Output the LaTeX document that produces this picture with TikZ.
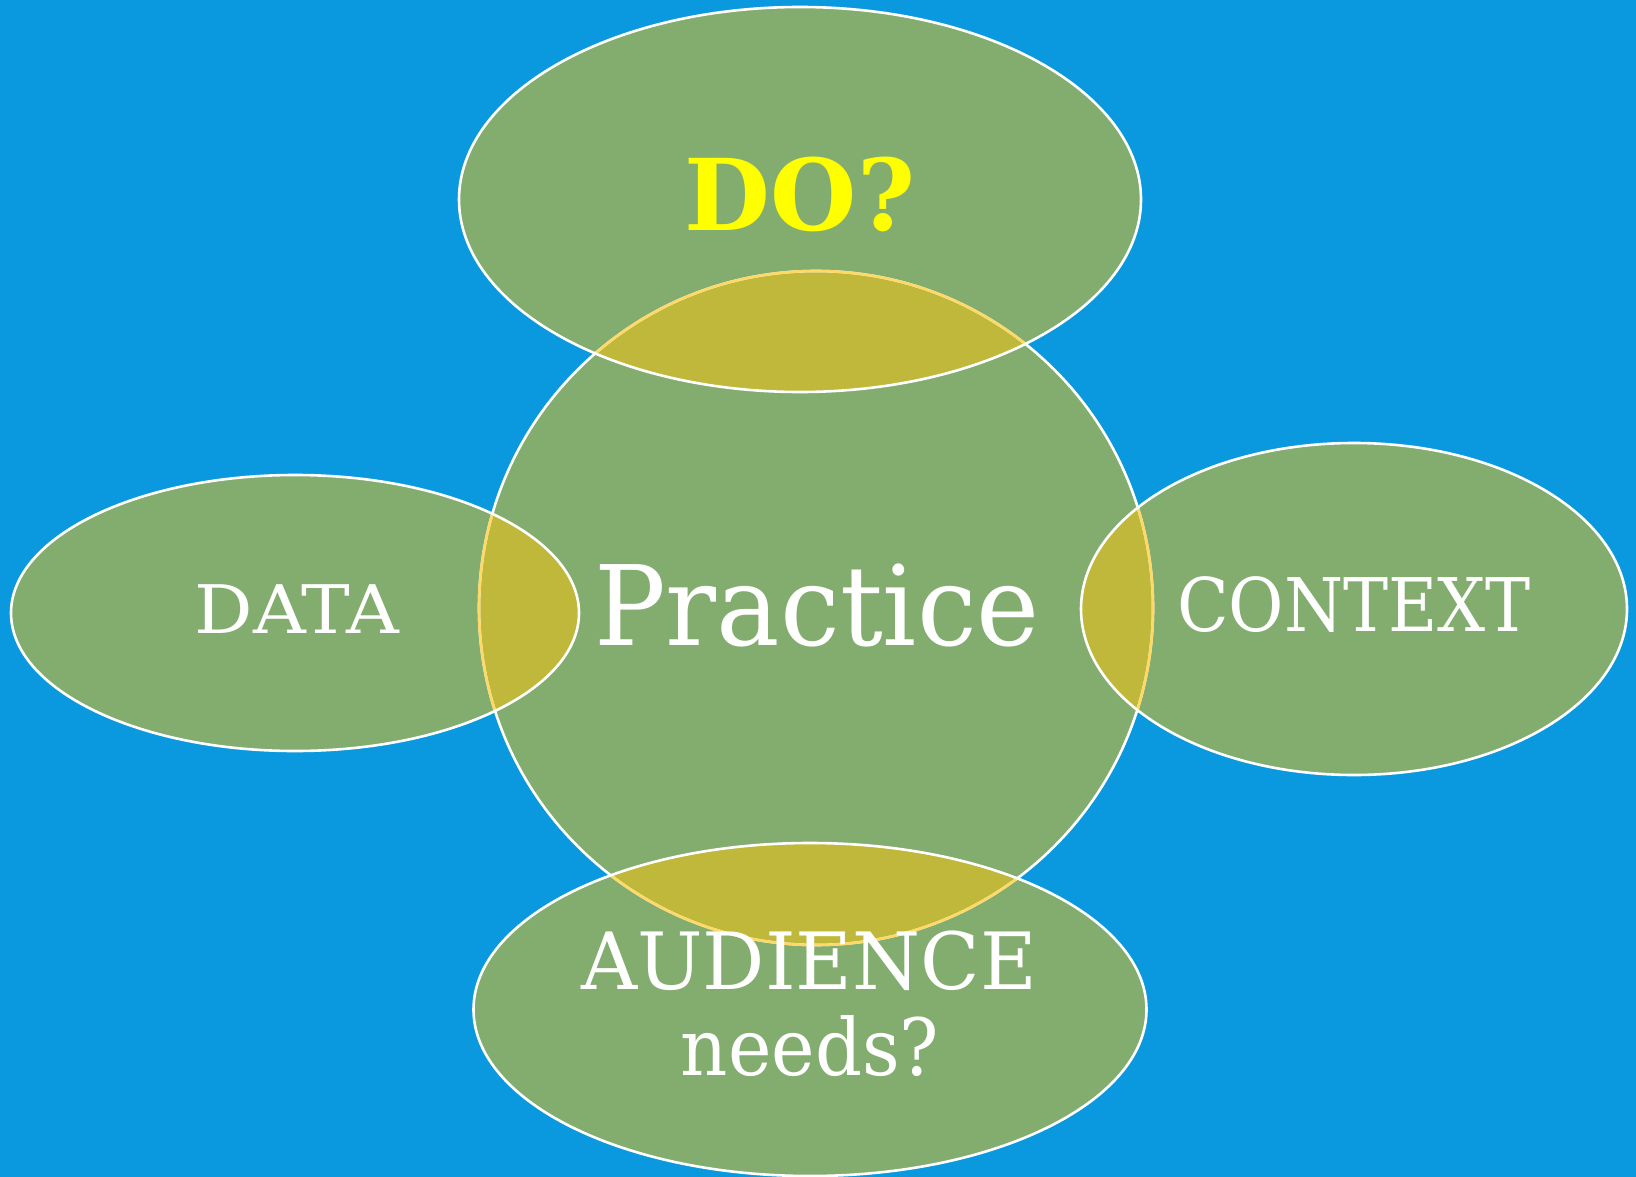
\documentclass[tikz,border=0pt]{standalone}
\usepackage{fontspec}
\setmainfont{DejaVu Serif}
\definecolor{bgblue}{HTML}{0A99DE}
\definecolor{leafgreen}{HTML}{83AD6F}
\definecolor{overlapyellow}{HTML}{C0B83A}
\definecolor{edgeyellow}{HTML}{FFD966}
\definecolor{doyellow}{HTML}{FFFF00}
\tikzset{
  lbl/.style={anchor=base, inner sep=0pt, text=white, align=center},
  rim/.style={draw=white, line width=2.6pt},
}
\begin{document}
\begin{tikzpicture}[x=1pt,y=-1pt]
  \fill[bgblue] (0,0) rectangle (1636,1177);
  \useasboundingbox (0,0) rectangle (1636,1177);
  % shapes
  \def\circ{(816,608) circle[radius=337]}
  \def\etop{(800,199.5) ellipse[x radius=341, y radius=192.5]}
  \def\eleft{(295,613) ellipse[x radius=284, y radius=138]}
  \def\eright{(1354,609) ellipse[x radius=273, y radius=166]}
  \def\ebot{(810,1009.5) ellipse[x radius=336.5, y radius=166.5]}
  \fill[leafgreen] \circ;
  \fill[leafgreen] \etop;
  \fill[leafgreen] \eleft;
  \fill[leafgreen] \eright;
  \fill[leafgreen] \ebot;
  % overlaps
  \foreach \e in {\etop,\eleft,\eright,\ebot}{
    \begin{scope}
      \clip \circ;
      \fill[overlapyellow] \e;
    \end{scope}
  }
  % circle outline: white outside, yellow inside ellipses
  \draw[rim] \circ;
  \foreach \e in {\etop,\eleft,\eright,\ebot}{
    \begin{scope}
      \clip \e;
      \draw[draw=edgeyellow, line width=2.6pt] \circ;
    \end{scope}
  }
  \draw[rim] \etop;
  \draw[rim] \eleft;
  \draw[rim] \eright;
  \draw[rim] \ebot;
  % labels
  \node[lbl, text=doyellow, font=\fontsize{99}{99}\selectfont\bfseries] (do) at (800,230.6) {DO?};
  \node[lbl, font=\fontsize{111}{111}\selectfont] (practice) at (817,645) {\scalebox{0.96}[1]{Practice}};
  \node[lbl, font=\fontsize{67}{67}\selectfont] (data) at (297,633) {\scalebox{1.09}[1]{DATA}};
  \node[lbl, font=\fontsize{74}{74}\selectfont] (context) at (1354,631) {\scalebox{0.913}[1]{CONTEXT}};
  \node[lbl, font=\fontsize{79}{79}\selectfont] (audience) at (809,989) {\scalebox{0.984}[1]{AUDIENCE}};
  \node[lbl, font=\fontsize{79}{79}\selectfont] (needs) at (810,1075) {\scalebox{0.93}[1]{needs?}};
\end{tikzpicture}
\end{document}
